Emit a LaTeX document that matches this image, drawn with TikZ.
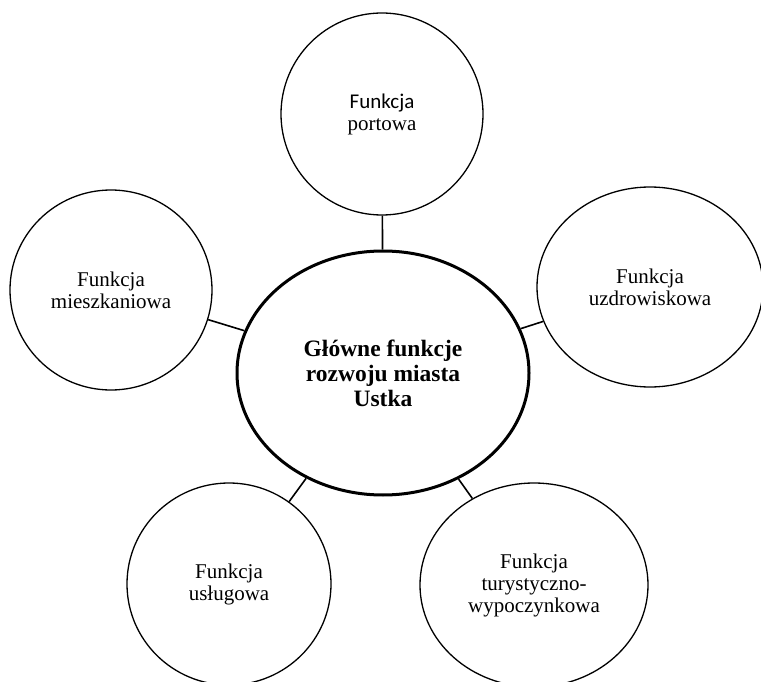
\documentclass[tikz,border=0pt]{standalone}
\usepackage{fontspec}
\setmainfont{Liberation Serif}
\newfontfamily\calibrilike{Carlito}
\usetikzlibrary{shapes.geometric}
\tikzset{
  funcbox/.style={draw, ellipse, line width=1.3pt, inner sep=0pt,
                  font=\fontsize{21}{22}\selectfont, align=center},
  mainbox/.style={draw, ellipse, line width=3pt, inner sep=0pt,
                  font=\fontsize{23.5}{25}\selectfont\bfseries, align=center},
  link/.style={line width=1.6pt},
}
\begin{document}
\begin{tikzpicture}[x=1pt, y=-1pt]
  \useasboundingbox (0,0) rectangle (761,682);
  \clip (0,0) rectangle (761,682);

  %% centre
  \node[mainbox, minimum width=292pt, minimum height=244pt] (ustka) at (383,373)
    {Główne funkcje\\rozwoju miasta\\Ustka};

  %% functions around it
  \node[funcbox, minimum width=202pt, minimum height=202pt] (port) at (382,114)
    {{\calibrilike Funkcja}\\portowa};
  \node[funcbox, minimum width=202pt, minimum height=200pt] (mieszk) at (111,290)
    {Funkcja\\mieszkaniowa};
  \node[funcbox, minimum width=226pt, minimum height=200pt] (uzdr) at (650,287)
    {Funkcja\\uzdrowiskowa};
  \node[funcbox, minimum width=204pt, minimum height=202pt] (uslug) at (229,584)
    {Funkcja\\usługowa};
  \node[funcbox, minimum width=228pt, minimum height=204pt] (tur) at (534,585)
    {Funkcja\\turystyczno-\\wypoczynkowa};

  %% connectors
  \foreach \f in {port, mieszk, uzdr, uslug, tur}
    \draw[link] (ustka) -- (\f);
\end{tikzpicture}
\end{document}
